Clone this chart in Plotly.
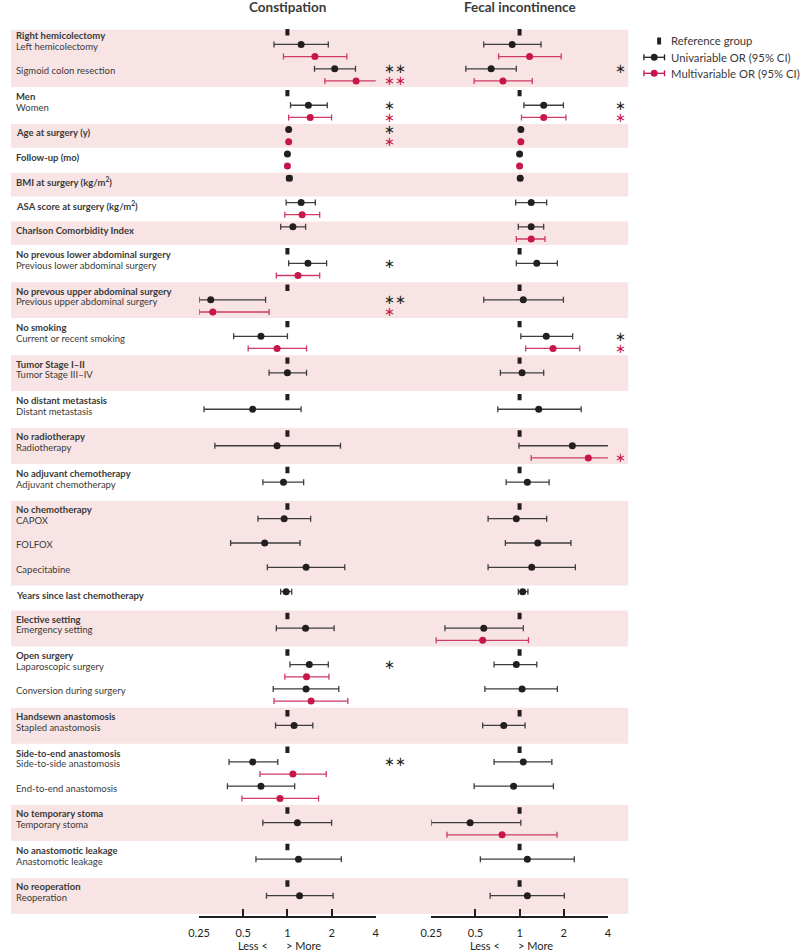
import plotly.graph_objects as go

# ---------------- DATA ----------------
levels = [
    "Right hemicolectomy", "Left hemicolectomy", "Sigmoid colon resection",
    "Men", "Women",
    "Age at surgery (y)",
    "Follow-up (mo)",
    "BMI at surgery (kg/m<sup>2</sup>)",
    "ASA score at surgery (kg/m<sup>2</sup>)",
    "Charlson Comorbidity Index",
    "No prevous lower abdominal surgery", "Previous lower abdominal surgery",
    "No prevous upper abdominal surgery", "Previous upper abdominal surgery",
    "No smoking", "Current or recent smoking",
    "Tumor Stage I–II", "Tumor Stage III–IV",
    "No distant metastasis", "Distant metastasis",
    "No radiotherapy", "Radiotherapy",
    "No adjuvant chemotherapy", "Adjuvant chemotherapy",
    "No chemotherapy", "CAPOX", "FOLFOX", "Capecitabine",
    "Years since last chemotherapy",
    "Elective setting", "Emergency setting",
    "Open surgery", "Laparoscopic surgery", "Conversion during surgery",
    "Handsewn anastomosis", "Stapled anastomosis",
    "Side-to-end anastomosis", "Side-to-side anastomosis", "End-to-end anastomosis",
    "No temporary stoma", "Temporary stoma",
    "No anastomotic leakage", "Anastomotic leakage",
    "No reoperation", "Reoperation",
]
group_of_level = [0, 0, 0, 1, 1, 2, 3, 4, 5, 6, 7, 7, 8, 8, 9, 9, 10, 10, 11, 11,
                  12, 12, 13, 13, 14, 14, 14, 14, 15, 16, 16, 17, 17, 17, 18, 18,
                  19, 19, 19, 20, 20, 21, 21, 22, 22]
is_reference = [1, 0, 0, 1, 0, 0, 0, 0, 0, 0, 1, 0, 1, 0, 1, 0, 1, 0, 1, 0,
                1, 0, 1, 0, 1, 0, 0, 0, 0, 1, 0, 1, 0, 0, 1, 0,
                1, 0, 0, 1, 0, 1, 0, 1, 0]
N = None

# Constipation, univariable OR / lower / upper 95% CI
con_uni_or = [N, 1.24, 2.10, N, 1.39, 1.02, 1.00, 1.03, 1.24, 1.09, N, 1.38, N, 0.30, N, 0.66, N, 1.00, N, 0.58,
              N, 0.85, N, 0.94, N, 0.95, 0.70, 1.34, 0.98, N, 1.33, N, 1.41, 1.34, N, 1.11,
              N, 0.58, 0.66, N, 1.17, N, 1.19, N, 1.21]
con_uni_lo = [N, 0.81, 1.53, N, 1.05, 1.01, 0.99, 0.99, 0.98, 0.90, N, 1.02, N, 0.25, N, 0.43, N, 0.75, N, 0.27,
              N, 0.32, N, 0.68, N, 0.63, 0.41, 0.73, 0.90, N, 0.84, N, 1.04, 0.80, N, 0.83,
              N, 0.40, 0.39, N, 0.68, N, 0.61, N, 0.72]
con_uni_hi = [N, 1.90, 2.91, N, 1.87, 1.03, 1.01, 1.07, 1.55, 1.33, N, 1.85, N, 0.71, N, 1.00, N, 1.35, N, 1.24,
              N, 2.30, N, 1.29, N, 1.44, 1.22, 2.46, 1.07, N, 2.08, N, 1.90, 2.24, N, 1.49,
              N, 0.86, 1.12, N, 2.00, N, 2.33, N, 2.05]
# Constipation, multivariable
con_mul_or = [N, 1.54, 2.94, N, 1.43, 1.02, 1.00, N, 1.26, N, N, 1.18, N, 0.31, N, 0.85, N, N, N, N,
              N, N, N, N, N, N, N, N, N, N, N, N, 1.35, 1.45, N, N,
              N, 1.09, 0.89, N, N, N, N, N, N]
con_mul_lo = [N, 0.94, 1.80, N, 1.02, 1.01, 0.99, N, 0.96, N, N, 0.84, N, 0.25, N, 0.54, N, N, N, N,
              N, N, N, N, N, N, N, N, N, N, N, N, 0.96, 0.81, N, N,
              N, 0.65, 0.49, N, N, N, N, N, N]
con_mul_hi = [N, 2.54, 4.10, N, 2.00, 1.03, 1.01, N, 1.66, N, N, 1.66, N, 0.75, N, 1.35, N, N, N, N,
              N, N, N, N, N, N, N, N, N, N, N, N, 1.92, 2.58, N, N,
              N, 1.84, 1.63, N, N, N, N, N, N]
# Fecal incontinence, univariable
fec_uni_or = [N, 0.89, 0.64, N, 1.46, 1.02, 1.00, 1.01, 1.20, 1.20, N, 1.31, N, 1.06, N, 1.52, N, 1.04, N, 1.35,
              N, 2.29, N, 1.13, N, 0.95, 1.33, 1.21, 1.05, N, 0.57, N, 0.95, 1.04, N, 0.78,
              N, 1.06, 0.91, N, 0.46, N, 1.13, N, 1.13]
fec_uni_lo = [N, 0.57, 0.43, N, 1.07, 1.01, 0.99, 0.98, 0.94, 0.98, N, 0.95, N, 0.57, N, 1.02, N, 0.74, N, 0.71,
              N, 0.99, N, 0.81, N, 0.61, 0.80, 0.61, 0.98, N, 0.31, N, 0.67, 0.58, N, 0.56,
              N, 0.67, 0.49, N, 0.25, N, 0.54, N, 0.63]
fec_uni_hi = [N, 1.40, 0.95, N, 1.99, 1.03, 1.01, 1.04, 1.53, 1.46, N, 1.81, N, 1.99, N, 2.30, N, 1.46, N, 2.63,
              N, 4.10, N, 1.59, N, 1.53, 2.24, 2.40, 1.14, N, 1.06, N, 1.31, 1.81, N, 1.09,
              N, 1.66, 1.70, N, 1.02, N, 2.36, N, 2.02]
# Fecal incontinence, multivariable
fec_mul_or = [N, 1.17, 0.77, N, 1.46, 1.02, 1.00, N, N, 1.20, N, N, N, N, N, 1.69, N, N, N, N,
              N, 2.94, N, N, N, N, N, N, N, N, 0.56, N, N, N, N, N,
              N, N, N, N, 0.76, N, N, N, N]
fec_mul_lo = [N, 0.72, 0.49, N, 1.03, 1.01, 0.99, N, N, 0.95, N, N, N, N, N, 1.10, N, N, N, N,
              N, 1.20, N, N, N, N, N, N, N, N, 0.27, N, N, N, N, N,
              N, N, N, N, 0.32, N, N, N, N]
fec_mul_hi = [N, 1.92, 1.22, N, 2.07, 1.03, 1.01, N, N, 1.49, N, N, N, N, N, 2.57, N, N, N, N,
              N, 4.10, N, N, N, N, N, N, N, N, 1.15, N, N, N, N, N,
              N, N, N, N, 1.80, N, N, N, N]

# Significance marks (level index -> mark)
con_uni_sig = {2: "**", 4: "*", 5: "*", 11: "*", 13: "**", 32: "*", 37: "**"}
con_mul_sig = {2: "**", 4: "*", 5: "*", 13: "*"}
fec_uni_sig = {2: "*", 4: "*", 15: "*"}
fec_mul_sig = {4: "*", 15: "*", 21: "*"}

panel_titles = ["Constipation", "Fecal incontinence"]
tick_values = [0.25, 0.5, 1, 2, 4]
tick_labels = ["0.25", "0.5", "1", "2", "4"]
legend_labels = ["Reference group", "Univariable OR (95% CI)", "Multivariable OR (95% CI)"]

# ---------------- STYLE ----------------
BLACK = "#231F20"
CRIMSON = "#C8164B"
BAND = "#F8E4E4"
TEXT = "#3A3A3A"
FONT = "Lato"
W, H = 800, 951
PLOT_H = 916          # plot area height (px from top)
ROW0, ROWH = 32.3, 12.16

def PX(x):
    return x / W

def PY(y):
    return (PLOT_H - y) / PLOT_H

# slot layout: reference level = 1 row, estimated level = 2 rows (uni, multi)
slots = []
s = 0
for i in range(len(levels)):
    slots.append(s)
    s += 1 if is_reference[i] else 2

fig = go.Figure()

# bands for alternating groups
shapes = []
n_groups = max(group_of_level) + 1
for g in range(n_groups):
    idx = [i for i in range(len(levels)) if group_of_level[i] == g]
    first = slots[idx[0]]
    last = slots[idx[-1]] + (0 if is_reference[idx[-1]] else 1)
    if g % 2 == 0:
        shapes.append(dict(type="rect", xref="paper", yref="y", x0=0, x1=PX(629),
                           y0=max(first - 0.45, -0.2), y1=last + 0.5,
                           fillcolor=BAND, line=dict(width=0), layer="below"))

# dotted reference lines at OR = 1
for xr in ["x", "x2"]:
    shapes.append(dict(type="line", xref=xr, yref="paper", x0=0, x1=0,
                       y0=0, y1=PY(17), line=dict(color="#6E6E6E", width=1, dash="dot"),
                       layer="below"))

def add_series(ors, los, his, offset, color, linecolor, xaxis):
    xs, ys, ep, em = [], [], [], []
    for i, v in enumerate(ors):
        if v is None:
            continue
        xs.append(v)
        ys.append(slots[i] + offset)
        ep.append(his[i] - v)
        em.append(v - los[i])
    fig.add_trace(go.Scatter(
        x=xs, y=ys, mode="markers", xaxis=xaxis, yaxis="y", showlegend=False,
        marker=dict(symbol="circle", size=7, color=color),
        error_x=dict(type="data", symmetric=False, array=ep, arrayminus=em,
                     thickness=1.3, width=3, color=linecolor),
        hoverinfo="skip"))

for xaxis, data in [("x", (con_uni_or, con_uni_lo, con_uni_hi, con_mul_or, con_mul_lo, con_mul_hi)),
                    ("x2", (fec_uni_or, fec_uni_lo, fec_uni_hi, fec_mul_or, fec_mul_lo, fec_mul_hi))]:
    ref_y = [slots[i] for i in range(len(levels)) if is_reference[i]]
    fig.add_trace(go.Scatter(
        x=[1] * len(ref_y), y=ref_y, mode="markers", xaxis=xaxis, yaxis="y", showlegend=False,
        marker=dict(symbol="line-ns", size=4.6, line=dict(width=4, color=BLACK)),
        hoverinfo="skip"))
    add_series(data[0], data[1], data[2], 0, BLACK, "#3E3E3E", xaxis)
    add_series(data[3], data[4], data[5], 1, CRIMSON, "#D03A64", xaxis)

annotations = []
# row labels
for i, lab in enumerate(levels):
    bold = is_reference[i] or sum(1 for g in group_of_level if g == group_of_level[i]) == 1
    txt = "<b>%s</b>" % lab if bold else lab
    annotations.append(dict(xref="paper", yref="y", x=PX(4), y=slots[i] + (0.28 if bold else 0.15),
                            text=txt, showarrow=False, xanchor="left", yanchor="middle", align="left",
                            borderpad=0, font=dict(family=FONT, size=9.5, color=TEXT)))

# significance marks
for sig, off, color, xpos in [(con_uni_sig, 0, BLACK, 379), (con_mul_sig, 1, CRIMSON, 379),
                              (fec_uni_sig, 0, BLACK, 614.5), (fec_mul_sig, 1, CRIMSON, 614.5)]:
    for i, mark in sig.items():
        annotations.append(dict(xref="paper", yref="y", x=PX(xpos), y=slots[i] + off,
                                text=mark.replace("*", "∗"), showarrow=False,
                                xanchor="left", yanchor="middle", align="left", borderpad=0,
                                font=dict(family="DejaVu Sans", size=13, color=color)))

# panel titles
for t, xc in zip(panel_titles, [281.7, 518.3]):
    annotations.append(dict(xref="paper", yref="paper", x=PX(xc), y=PY(7), text="<b>%s</b>" % t,
                            showarrow=False, xanchor="center", yanchor="middle",
                            font=dict(family=FONT, size=13.5, color=TEXT)))
# Less / More
for xc in [281.7, 518.3]:
    annotations.append(dict(xref="paper", yref="paper", x=PX(xc - 18), y=PY(945.5), text="Less <",
                            showarrow=False, xanchor="right", yanchor="middle", align="right",
                            font=dict(family=FONT, size=11, color=BLACK)))
    annotations.append(dict(xref="paper", yref="paper", x=PX(xc - 3.5), y=PY(945.5), text="> More",
                            showarrow=False, xanchor="left", yanchor="middle", align="left",
                            font=dict(family=FONT, size=11, color=BLACK)))

# legend (manual)
leg_y = [40.7, 57.3, 73.3]
for lab, yy in zip(legend_labels, leg_y):
    annotations.append(dict(xref="paper", yref="paper", x=PX(672), y=PY(yy), text=lab,
                            showarrow=False, xanchor="left", yanchor="middle", align="left",
                            borderpad=0, font=dict(family=FONT, size=11.3, color=TEXT)))
shapes.append(dict(type="rect", xref="paper", yref="paper", x0=PX(658.5), x1=PX(662.5),
                   y0=PY(44.5), y1=PY(37.5), fillcolor=BLACK, line=dict(width=0)))
for yy, col in [(leg_y[1], BLACK), (leg_y[2], CRIMSON)]:
    shapes.append(dict(type="line", xref="paper", yref="paper", x0=PX(645), x1=PX(666),
                       y0=PY(yy), y1=PY(yy), line=dict(color=col, width=1.3)))
    for xc in [645, 666]:
        shapes.append(dict(type="line", xref="paper", yref="paper", x0=PX(xc), x1=PX(xc),
                           y0=PY(yy - 3), y1=PY(yy + 3), line=dict(color=col, width=1.3)))
    shapes.append(dict(type="circle", xref="paper", yref="paper", x0=PX(652), x1=PX(659),
                       y0=PY(yy + 3.5), y1=PY(yy - 3.5), fillcolor=col, line=dict(width=0)))

axis_common = dict(type="log", range=[-0.60206, 0.60206], showgrid=False, zeroline=False,
                   showline=True, linewidth=2, linecolor=BLACK, ticks="inside", ticklen=7,
                   tickwidth=2, tickcolor=BLACK, tickvals=tick_values, ticktext=tick_labels,
                   tickfont=dict(family=FONT, size=11, color=BLACK), ticklabelstandoff=6,
                   anchor="y", fixedrange=True)

fig.update_layout(
    width=W, height=H,
    margin=dict(l=0, r=0, t=0, b=H - PLOT_H, pad=0),
    paper_bgcolor="white", plot_bgcolor="rgba(0,0,0,0)",
    showlegend=False,
    xaxis=dict(domain=[PX(191.7), PX(371.7)], **axis_common),
    xaxis2=dict(domain=[PX(428.3), PX(608.3)], **axis_common),
    yaxis=dict(range=[(PLOT_H - ROW0) / ROWH, -ROW0 / ROWH], visible=False, fixedrange=True),
    shapes=shapes,
    annotations=annotations,
)

fig.write_html("out.html", config={"staticPlot": True},
               post_script="document.body.style.margin='0';document.body.style.overflow='hidden';")
